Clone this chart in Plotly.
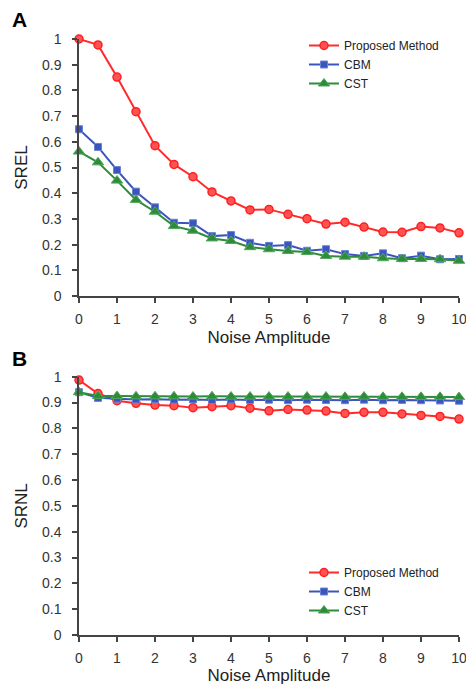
import plotly.graph_objects as go

noise = [0, 0.5, 1, 1.5, 2, 2.5, 3, 3.5, 4, 4.5, 5, 5.5, 6, 6.5, 7, 7.5, 8, 8.5, 9, 9.5, 10]

srel_proposed = [1.0, 0.977, 0.852, 0.717, 0.585, 0.512, 0.464, 0.405, 0.37, 0.335, 0.337,
                 0.318, 0.301, 0.28, 0.287, 0.268, 0.249, 0.248, 0.27, 0.265, 0.246]
srel_cbm = [0.649, 0.58, 0.49, 0.406, 0.345, 0.285, 0.283, 0.233, 0.237, 0.207, 0.195,
            0.198, 0.176, 0.182, 0.163, 0.156, 0.166, 0.147, 0.157, 0.143, 0.144]
srel_cst = [0.562, 0.52, 0.449, 0.374, 0.328, 0.272, 0.254, 0.224, 0.214, 0.19, 0.182,
            0.175, 0.171, 0.156, 0.153, 0.153, 0.147, 0.144, 0.144, 0.143, 0.137]

srnl_proposed = [0.987, 0.935, 0.907, 0.897, 0.89, 0.888, 0.88, 0.884, 0.888, 0.878, 0.868,
                 0.873, 0.871, 0.867, 0.858, 0.862, 0.862, 0.856, 0.85, 0.846, 0.836]
srnl_cbm = [0.94, 0.918, 0.915, 0.912, 0.913, 0.911, 0.912, 0.91, 0.912, 0.91, 0.911,
            0.909, 0.911, 0.91, 0.909, 0.911, 0.909, 0.91, 0.909, 0.908, 0.907]
srnl_cst = [0.94, 0.925, 0.925, 0.924, 0.924, 0.924, 0.923, 0.924, 0.923, 0.923, 0.923,
            0.923, 0.923, 0.923, 0.922, 0.923, 0.922, 0.922, 0.922, 0.922, 0.921]

series_names = ["Proposed Method", "CBM", "CST"]
y_ticks = [0, 0.1, 0.2, 0.3, 0.4, 0.5, 0.6, 0.7, 0.8, 0.9, 1]
y_tick_labels = ["0", "0.1", "0.2", "0.3", "0.4", "0.5", "0.6", "0.7", "0.8", "0.9", "1"]
x_ticks = list(range(0, 11))

styles = [
    dict(line=dict(color="#ff2b2b", width=2),
         marker=dict(symbol="circle", size=8, color="#ff5252", line=dict(color="#ff2020", width=1.5))),
    dict(line=dict(color="#3a56bd", width=2),
         marker=dict(symbol="square", size=7, color="#3a56bd", line=dict(color="#6a82d6", width=1))),
    dict(line=dict(color="#2e8b3a", width=2),
         marker=dict(symbol="triangle-up", size=10, color="#2e8b3a", line=dict(color="#4fa85a", width=1))),
]

fig = go.Figure()
for name, ys, st in zip(series_names, [srel_proposed, srel_cbm, srel_cst], styles):
    fig.add_trace(go.Scatter(x=noise, y=ys, name=name, mode="lines+markers",
                             xaxis="x", yaxis="y", legend="legend", cliponaxis=False, **st))
for name, ys, st in zip(series_names, [srnl_proposed, srnl_cbm, srnl_cst], styles):
    fig.add_trace(go.Scatter(x=noise, y=ys, name=name, mode="lines+markers",
                             xaxis="x2", yaxis="y2", legend="legend2", cliponaxis=False, **st))

W, H = 466, 685


def px_x(p):
    return p / W


def px_y(p):
    return 1 - p / H


xdom = [px_x(79), px_x(459)]
ydomA = [px_y(296), px_y(39)]
ydomB = [px_y(635), px_y(376.7)]

tickfont = dict(family="Liberation Sans, Arial", size=14, color="#333333")
titlefont = dict(family="Liberation Sans, Arial", size=17, color="#222222")
axis_common = dict(showline=True, linecolor="#444444", linewidth=1.5, ticks="outside",
                   ticklen=5, tickwidth=1.5, tickcolor="#444444", showgrid=False,
                   zeroline=False, tickfont=tickfont, automargin=False,
                   ticklabeloverflow="allow")
legfont = dict(family="Liberation Sans, Arial", size=12, color="#222222")

fig.update_layout(
    width=W, height=H,
    margin=dict(l=0, r=0, t=0, b=0),
    paper_bgcolor="white", plot_bgcolor="white",
    font=dict(family="Liberation Sans, Arial", color="#222222"),
    xaxis=dict(domain=xdom, range=[0, 10], tickvals=x_ticks, anchor="y", ticklabelstandoff=4,
               title=dict(text="Noise Amplitude", font=titlefont, standoff=6), **axis_common),
    yaxis=dict(domain=ydomA, range=[0, 1], tickvals=y_ticks, ticktext=y_tick_labels, anchor="x",
               ticklabelstandoff=8,
               title=dict(text="SREL", font=titlefont, standoff=10), **axis_common),
    xaxis2=dict(domain=xdom, range=[0, 10], tickvals=x_ticks, anchor="y2", ticklabelstandoff=4,
                title=dict(text="Noise Amplitude", font=titlefont, standoff=6), **axis_common),
    yaxis2=dict(domain=ydomB, range=[0, 1], tickvals=y_ticks, ticktext=y_tick_labels, anchor="x2",
                ticklabelstandoff=8,
                title=dict(text="SRNL", font=titlefont, standoff=10), **axis_common),
    legend=dict(x=px_x(304), y=px_y(31), xanchor="left", yanchor="top", font=legfont,
                bgcolor="rgba(0,0,0,0)", tracegroupgap=0, itemwidth=30),
    legend2=dict(x=px_x(304), y=px_y(558), xanchor="left", yanchor="top", font=legfont,
                 bgcolor="rgba(0,0,0,0)", tracegroupgap=0, itemwidth=30),
    annotations=[
        dict(text="<b>A</b>", x=px_x(10), y=px_y(20), xref="paper", yref="paper",
             xanchor="left", yanchor="middle", showarrow=False,
             font=dict(family="Liberation Sans, Arial", size=21, color="#000000")),
        dict(text="<b>B</b>", x=px_x(10), y=px_y(358), xref="paper", yref="paper",
             xanchor="left", yanchor="middle", showarrow=False,
             font=dict(family="Liberation Sans, Arial", size=21, color="#000000")),
    ],
)

# remove the default page margin so the figure fills the window exactly, without scrollbars
fig.write_html(
    "out.html",
    config={"displayModeBar": False},
    post_script="document.body.style.margin='0';document.body.style.overflow='hidden';",
)
